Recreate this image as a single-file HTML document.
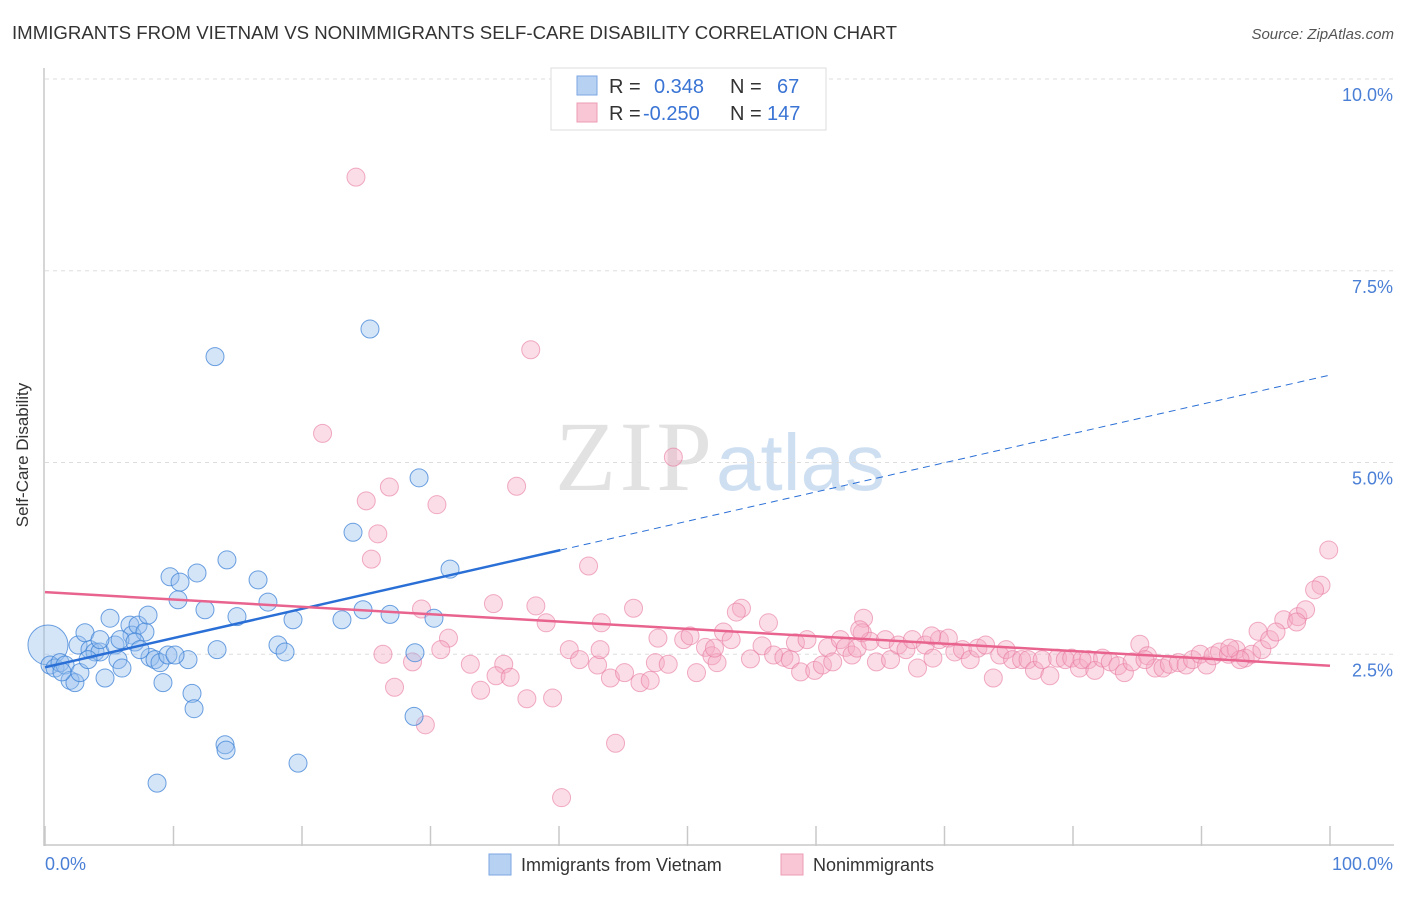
<!DOCTYPE html>
<html><head><meta charset="utf-8"><style>
body{margin:0;background:#fff;font-family:"Liberation Sans",sans-serif}
</style></head><body>
<svg width="1406" height="892" xmlns="http://www.w3.org/2000/svg" id="chart">
<text x="12" y="39" font-size="18" fill="#333" textLength="885" lengthAdjust="spacingAndGlyphs">IMMIGRANTS FROM VIETNAM VS NONIMMIGRANTS SELF-CARE DISABILITY CORRELATION CHART</text>
<text x="1394" y="39" font-size="15" fill="#555" font-style="italic" text-anchor="end">Source: ZipAtlas.com</text>
<text x="712" y="490" font-size="100" fill="#e2e2e2" text-anchor="end" font-family="Liberation Serif,serif" textLength="157">ZIP</text>
<text x="716" y="490" font-size="80" fill="#cfdff2">atlas</text>
<g id="grid"></g>
<line x1="44" y1="68" x2="44" y2="846" stroke="#c8c8c8" stroke-width="1.5"/>
<line x1="44" y1="845" x2="1394" y2="845" stroke="#c8c8c8" stroke-width="1.5"/>
<g id="xticks"></g>
<text x="28" y="455" font-size="17" fill="#333" transform="rotate(-90 28 455)" text-anchor="middle">Self-Care Disability</text>
<text x="45" y="870" font-size="18" fill="#4a7fd6">0.0%</text>
<text x="1393" y="870" font-size="18" fill="#4a7fd6" text-anchor="end">100.0%</text>
<g id="pink"></g><g id="blue"></g><g id="trends"></g>
<g>
<rect x="551" y="68" width="275" height="62" fill="#fff" stroke="#ddd"/>
<rect x="577" y="76" width="20" height="19" fill="#b7d1f3" stroke="#7ba6e3"/>
<rect x="577" y="103" width="20" height="19" fill="#f8c6d4" stroke="#ee9cb6"/>
<text x="609" y="93" font-size="20" fill="#333">R = </text><text x="654" y="93" font-size="20" fill="#3a74d4">0.348</text>
<text x="730" y="93" font-size="20" fill="#333">N = </text><text x="777" y="93" font-size="20" fill="#3a74d4">67</text>
<text x="609" y="120" font-size="20" fill="#333">R = </text><text x="643" y="120" font-size="20" fill="#3a74d4">-0.250</text>
<text x="730" y="120" font-size="20" fill="#333">N = </text><text x="767" y="120" font-size="20" fill="#3a74d4">147</text>
</g>
<g><rect x="489" y="854" width="22" height="21" fill="#b7d1f3" stroke="#7ba6e3"/><text x="521" y="871" font-size="18" fill="#333">Immigrants from Vietnam</text></g>
<g><rect x="781" y="854" width="22" height="21" fill="#f8c6d4" stroke="#ee9cb6"/><text x="813" y="871" font-size="18" fill="#333">Nonimmigrants</text></g>
</svg>
<script>
const yTicks=[2.5,5,7.5,10];
const yTickLabels=["2.5%","5.0%","7.5%","10.0%"];
const xTicks=[0,10,20,30,40,50,60,70,80,90,100];
const blueX=[.23,.39,.78,1.17,1.56,1.95,2.33,2.72,2.57,3.11,3.5,3.89,4.28,5.06,5.45,5.68,5.99,4.67,6.61,6.77,7.24,7.78,8.02,8.17,8.56,8.95,9.18,9.57,9.73,10.35,10.51,11.13,11.44,11.6,11.83,12.45,13.23,13.39,14.01,14.09,14.16,14.94,16.58,17.35,18.13,18.68,19.3,19.69,23.11,23.97,24.75,25.29,26.85,28.79,28.72,29.11,30.27,31.52,8.72,5.84,7,7.39,10.12,4.28,1.32,3.35];
const blueY=[2.62,2.36,2.32,2.39,2.36,2.16,2.13,2.26,2.62,2.78,2.56,2.53,2.53,2.97,2.62,2.43,2.32,2.19,2.88,2.75,2.88,2.79,3.01,2.46,2.43,2.39,2.13,2.49,3.51,3.21,3.44,2.43,1.99,1.79,3.56,3.08,6.38,2.56,1.32,1.25,3.73,2.99,3.47,3.18,2.62,2.53,2.95,1.08,2.95,4.09,3.08,6.74,3.02,2.52,1.69,4.8,2.97,3.61,.82,2.69,2.66,2.56,2.49,2.69,2.27,2.43];
const pinkX=[24.2,37.8,21.6,48.9,26.8,25,36.7,30.5,25.9,25.4,42.3,99.9,99.3,34.9,38.2,45.8,29.3,54.2,53.8,39,43.3,63.7,31.4,94.4,96.4,97.5,98.1,98.8,97.4,26.3,28.6,30.8,33.1,35.7,35.1,33.9,36.2,37.5,39.5,27.2,29.6,44.4,40.2,40.8,41.6,43,44,45.1,46.3,47.1,47.5,48.5,47.7,49.7,50.2,50.7,51.4,51.9,52.3,52.8,53.4,54.9,55.8,56.3,56.7,57.5,58,58.4,58.8,59.3,59.9,60.5,60.9,61.3,61.9,62.3,62.8,63.2,63.6,64.2,64.7,65.4,65.8,66.4,67,67.5,67.9,68.5,69.1,69.6,70.3,70.8,71.4,72,72.6,73.2,73.8,74.3,74.8,75.3,76,76.5,77,77.6,78.2,78.8,79.4,79.9,80.5,81.2,81.7,82.3,82.9,83.5,84,84.6,85.2,85.8,86.4,87,87.5,88.2,88.8,89.3,89.9,90.4,90.9,91.4,92.1,92.7,93.4,93.9,94.7,95.3,95.8,80.7,93,43.2,52.1,63.4,69,85.6,92.2];
const pinkY=[8.72,6.47,5.38,5.07,4.68,4.5,4.69,4.45,4.07,3.74,3.65,3.86,3.4,3.16,3.13,3.1,3.09,3.1,3.05,2.91,2.91,2.97,2.71,2.8,2.95,2.99,3.08,3.34,2.92,2.5,2.4,2.56,2.37,2.37,2.22,2.03,2.2,1.92,1.93,2.07,1.58,1.34,.63,2.56,2.43,2.36,2.19,2.26,2.13,2.16,2.39,2.37,2.71,2.69,2.74,2.26,2.59,2.48,2.39,2.79,2.69,2.44,2.61,2.91,2.49,2.46,2.43,2.65,2.27,2.69,2.29,2.36,2.59,2.4,2.69,2.59,2.49,2.58,2.78,2.67,2.4,2.69,2.43,2.62,2.56,2.69,2.32,2.62,2.45,2.69,2.71,2.53,2.56,2.43,2.58,2.62,2.19,2.49,2.56,2.43,2.43,2.43,2.29,2.43,2.22,2.45,2.43,2.45,2.32,2.43,2.29,2.45,2.4,2.35,2.26,2.4,2.63,2.48,2.32,2.32,2.37,2.39,2.36,2.43,2.5,2.36,2.48,2.53,2.5,2.56,2.45,2.5,2.56,2.69,2.79,2.43,2.43,2.56,2.58,2.82,2.74,2.43,2.58];
const blueTrend=[2.33,6.14]; const blueSolidEnd=40.1;
const pinkTrend=[3.31,2.35];
const NS="http://www.w3.org/2000/svg";
const xs=v=>45+v*12.85, ys=v=>846-v*76.7;
function mk(t,a,p){const e=document.createElementNS(NS,t);for(const k in a)e.setAttribute(k,a[k]);document.getElementById(p).appendChild(e);return e;}
yTicks.forEach((t,i)=>{
 const l=mk('line',{x1:45,x2:1394,y1:ys(t),y2:ys(t),stroke:'#ddd','stroke-dasharray':'4,4'},'grid');
 
 
 const tx=mk('text',{x:1393,y:ys(t)+22,'font-size':18,fill:'#4a7fd6','text-anchor':'end'},'grid');
 tx.textContent=yTickLabels[i];
 
 
});
xTicks.forEach(t=>{
 const l=mk('line',{x1:xs(t),x2:xs(t),y1:826,y2:846,stroke:'#c8c8c8','stroke-width':1.5},'xticks');
 
 
});
pinkX.forEach((x,i)=>{
 const c=mk('circle',{cx:xs(x),cy:ys(pinkY[i]),r:9,fill:'rgba(246,170,195,0.4)',stroke:'rgba(232,120,160,0.6)','stroke-width':1},'pink');
 
 
});
blueX.forEach((x,i)=>{
 const c=mk('circle',{cx:xs(x),cy:ys(blueY[i]),r:i===0?20:9,fill:'rgba(150,190,238,0.4)',stroke:'rgba(60,130,215,0.75)','stroke-width':1},'blue');
 
 
});
const by=x=>blueTrend[0]+(blueTrend[1]-blueTrend[0])*x/100;
let t1=mk('line',{x1:xs(0),y1:ys(by(0)),x2:xs(blueSolidEnd),y2:ys(by(blueSolidEnd)),stroke:'#2a6fd6','stroke-width':2.5},'trends');


let t2=mk('line',{x1:xs(blueSolidEnd),y1:ys(by(blueSolidEnd)),x2:xs(100),y2:ys(by(100)),stroke:'#2a6fd6','stroke-width':1,'stroke-dasharray':'7,5'},'trends');


let t3=mk('line',{x1:xs(0),y1:ys(pinkTrend[0]),x2:xs(100),y2:ys(pinkTrend[1]),stroke:'#e8648f','stroke-width':2.5},'trends');


</script>
</body></html>
